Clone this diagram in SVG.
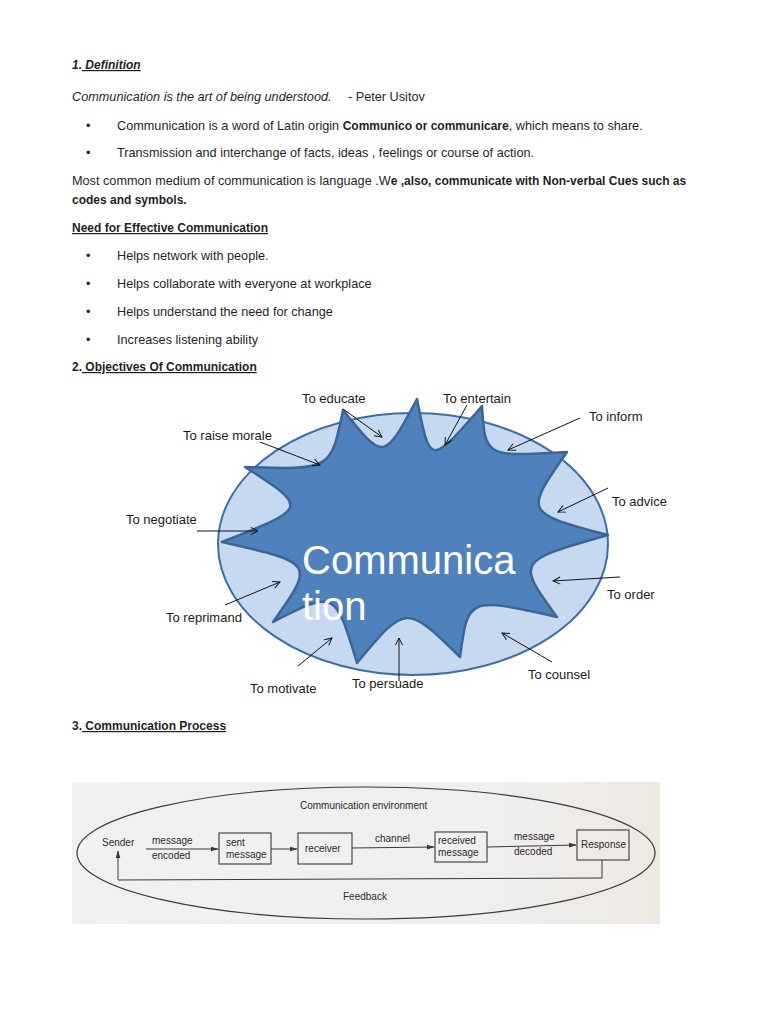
<svg xmlns="http://www.w3.org/2000/svg" width="768" height="1024" viewBox="0 0 768 1024">
<style>
.t{font-family:"Liberation Sans",Arial,sans-serif;font-size:12.7px;fill:#1f1f1f}
.b{font-weight:bold;font-size:12px}
.i{font-style:italic}
.u{text-decoration:underline}
.lbl{font-family:"Liberation Sans",Arial,sans-serif;font-size:13px;fill:#1a1a1a}
.ar{stroke:#111;stroke-width:1;fill:none;marker-end:url(#open)}
.pt{font-family:"Liberation Sans",Arial,sans-serif;font-size:10px;fill:#2a2a2a}
.pbox{fill:none;stroke:#3a3a3a;stroke-width:1.1}
.pl{stroke:#3a3a3a;stroke-width:1;fill:none}
.pa{stroke:#3a3a3a;stroke-width:1;fill:none;marker-end:url(#tri)}
</style>
<defs>
<marker id="open" viewBox="0 0 10 10" refX="9" refY="5" markerWidth="9" markerHeight="9" orient="auto" markerUnits="userSpaceOnUse">
<path d="M1,1 L9,5 L1,9" fill="none" stroke="#111" stroke-width="1.1"/>
</marker>
<marker id="tri" viewBox="0 0 10 10" refX="9" refY="5" markerWidth="8" markerHeight="6" orient="auto" markerUnits="userSpaceOnUse" preserveAspectRatio="none">
<path d="M0,1 L10,5 L0,9 Z" fill="#3a3a3a"/>
</marker>
<linearGradient id="paper" x1="0" y1="0" x2="1" y2="0">
<stop offset="0" stop-color="#f1f1f1"/>
<stop offset="0.7" stop-color="#efefef"/>
<stop offset="1" stop-color="#eee8e2"/>
</linearGradient>
</defs>
<rect width="768" height="1024" fill="#ffffff"/>

<g id="text-section">
<text class="t b i" x="72" y="69">1.<tspan class="u"> Definition</tspan></text>
<text class="t i" x="72" y="101">Communication is the art of being understood.</text>
<text class="t" x="348" y="101">-  Peter Usitov</text>
<text class="t" x="86" y="130">•</text>
<text class="t" x="117" y="130">Communication is a word of Latin origin  <tspan class="b">Communico or communicare</tspan>, which means to share.</text>
<text class="t" x="86" y="157">•</text>
<text class="t" x="117" y="157">Transmission and interchange of facts, ideas , feelings or course of action.</text>
<text class="t" x="72" y="185">Most common medium of communication is language .W<tspan class="b">e ,also, communicate with Non-verbal Cues such as</tspan></text>
<text class="t b" x="72" y="204">codes and symbols.</text>
<text class="t b u" x="72" y="232">Need for Effective Communication</text>
<text class="t" x="86" y="260">•</text>
<text class="t" x="117" y="260">Helps network with people.</text>
<text class="t" x="86" y="288">•</text>
<text class="t" x="117" y="288">Helps collaborate with everyone at workplace</text>
<text class="t" x="86" y="316">•</text>
<text class="t" x="117" y="316">Helps understand the need for change</text>
<text class="t" x="86" y="344">•</text>
<text class="t" x="117" y="344">Increases listening ability</text>
<text class="t b" x="72" y="371">2.<tspan class="u"> Objectives Of Communication</tspan></text>
<text class="t b" x="72" y="730">3.<tspan class="u"> Communication Process</tspan></text>
</g>

<g id="objectives-diagram">
<g id="outer-ellipse">
<ellipse cx="413" cy="544" rx="195" ry="131" fill="#c6d9f1" stroke="#3f6ea5" stroke-width="2"/>
</g>
<g id="star">
<path d="M343,410 C384,461 384,461 417,399 C430,466 430,466 482,406 C485,457 485,457 567,452 C524,513 524,513 608,535 C516,561 516,561 557,617 C468,597 468,597 460,657 C406,604 406,604 357,663 C335,590 335,590 273,622 C315,563 315,563 222,542 C309,508 309,508 245,467 C331,470 331,470 343,410 Z" fill="#4f81bd" stroke="#3a6596" stroke-width="2.5" stroke-linejoin="round"/>
<text x="302" y="574" font-family="Liberation Sans, Arial, sans-serif" font-size="40" fill="#ffffff">Communica</text>
<text x="302" y="620" font-family="Liberation Sans, Arial, sans-serif" font-size="40" fill="#ffffff">tion</text>
</g>
<g id="connectors">
<line class="ar" x1="343" y1="409" x2="382" y2="437"/>
<line class="ar" x1="467" y1="405" x2="445" y2="445"/>
<line class="ar" x1="580" y1="418" x2="508" y2="450"/>
<line class="ar" x1="260" y1="442" x2="320" y2="465"/>
<line class="ar" x1="608" y1="488" x2="558" y2="512"/>
<line class="ar" x1="197" y1="531" x2="258" y2="531"/>
<line class="ar" x1="620" y1="577" x2="553" y2="581"/>
<line class="ar" x1="225" y1="605" x2="280" y2="582"/>
<line class="ar" x1="298" y1="666" x2="332" y2="638"/>
<line class="ar" x1="399" y1="681" x2="399" y2="638"/>
<line class="ar" x1="552" y1="662" x2="502" y2="633"/>
</g>
<g id="labels">
<text class="lbl" x="302" y="403">To educate</text>
<text class="lbl" x="443" y="403">To entertain</text>
<text class="lbl" x="589" y="421">To inform</text>
<text class="lbl" x="183" y="440">To raise morale</text>
<text class="lbl" x="612" y="506">To advice</text>
<text class="lbl" x="126" y="524">To negotiate</text>
<text class="lbl" x="607" y="599">To order</text>
<text class="lbl" x="166" y="622">To reprimand</text>
<text class="lbl" x="528" y="679">To counsel</text>
<text class="lbl" x="352" y="688">To persuade</text>
<text class="lbl" x="250" y="693">To motivate</text>
</g>
</g>

<g id="process-diagram">
<rect x="72" y="782" width="588" height="142" fill="url(#paper)"/>
<g id="environment">
<ellipse cx="366" cy="853" rx="289" ry="66" fill="none" stroke="#3a3a3a" stroke-width="1.2"/>
<text class="pt" x="300" y="809">Communication environment</text>
</g>
<g id="sender"><text class="pt" x="102" y="846">Sender</text></g>
<g id="sent-message">
<rect class="pbox" x="219" y="833" width="52" height="31"/>
<text class="pt" x="226" y="846">sent</text>
<text class="pt" x="226" y="858">message</text>
</g>
<g id="receiver">
<rect class="pbox" x="298" y="833" width="54" height="31"/>
<text class="pt" x="305" y="852">receiver</text>
</g>
<g id="received-message">
<rect class="pbox" x="435" y="832" width="52" height="30"/>
<text class="pt" x="438" y="844">received</text>
<text class="pt" x="438" y="856">message</text>
</g>
<g id="response">
<rect class="pbox" x="577" y="830" width="52" height="30"/>
<text class="pt" x="581" y="848">Response</text>
</g>
<g id="process-connectors">
<line class="pa" x1="146" y1="849" x2="218" y2="849"/>
<text class="pt" x="152" y="844">message</text>
<text class="pt" x="152" y="859">encoded</text>
<line class="pa" x1="271" y1="849" x2="297" y2="849"/>
<line class="pa" x1="352" y1="848" x2="434" y2="847"/>
<text class="pt" x="375" y="842">channel</text>
<line class="pa" x1="487" y1="847" x2="576" y2="845"/>
<text class="pt" x="514" y="840">message</text>
<text class="pt" x="514" y="855">decoded</text>
<path class="pa" d="M602,860 L602,878 L118,880 L118,851"/>
<text class="pt" x="343" y="900">Feedback</text>
</g>
</g>
</svg>
